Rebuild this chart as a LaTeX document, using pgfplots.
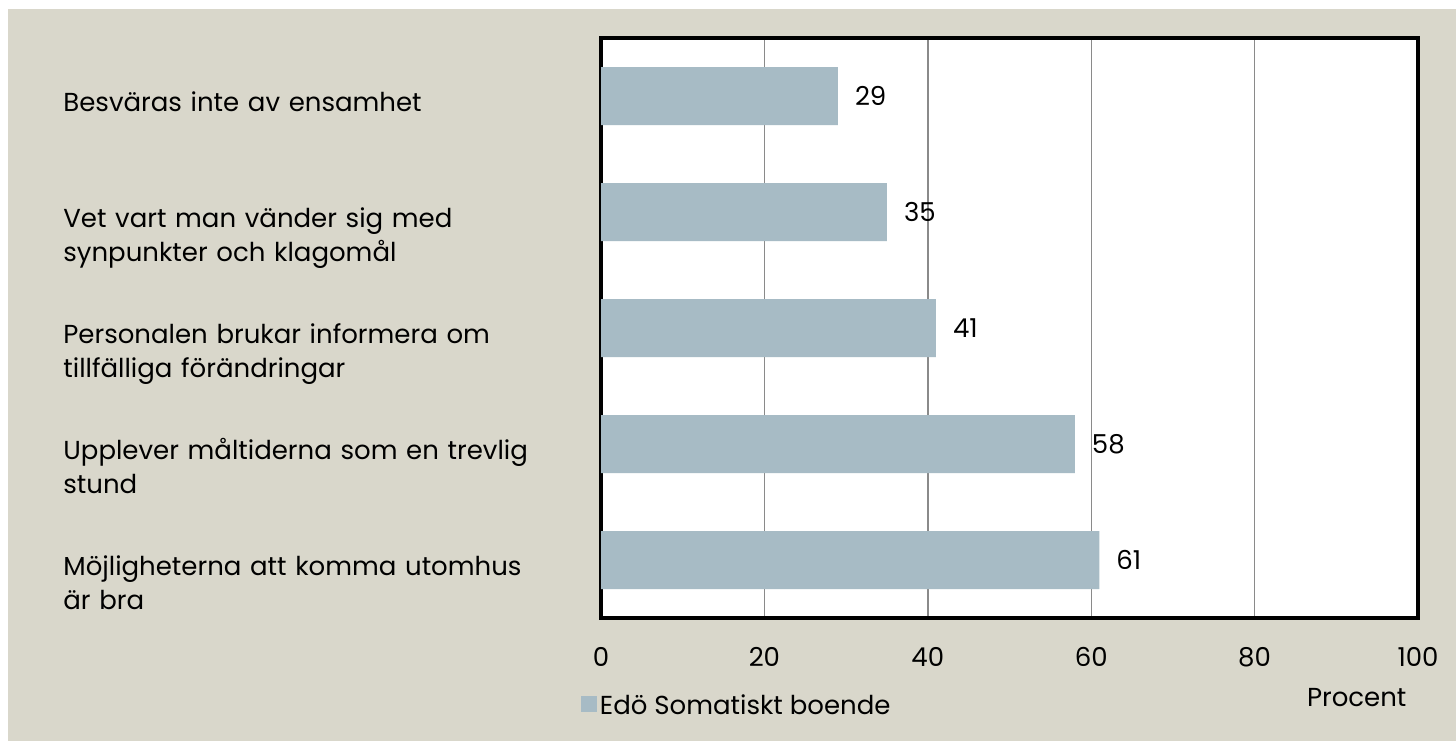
\documentclass[border=0pt]{standalone}
\usepackage{fontspec}
\setmainfont{Poppins}
\usepackage{pgfplots}
\pgfplotsset{compat=1.18}
\definecolor{bgbeige}{HTML}{D9D7CB}
\definecolor{barblue}{HTML}{A7BBC5}
\definecolor{gridgray}{HTML}{8A8A8A}

\begin{document}
\begin{tikzpicture}
\fill[white] (0,0) rectangle (728pt,370.5pt);
\fill[bgbeige] (4pt,0) rectangle (728pt,366pt);
\begin{axis}[
  at={(300.5pt,61.5pt)},anchor=south west,
  width=408.5pt,height=290pt,scale only axis,
  xbar,bar width=29pt,
  xmin=0,xmax=100,ymin=0.5,ymax=5.5,
  xtick={0,20,40,60,80,100},
  ytick={1,2,3,4,5},
  yticklabels={{Möjligheterna att komma utomhus\\är bra},
    {Upplever måltiderna som en trevlig\\stund},
    {Personalen brukar informera om\\tillfälliga förändringar},
    {Vet vart man vänder sig med\\synpunkter och klagomål},
    {Besväras inte av ensamhet}},
  major tick length=0pt,
  axis background/.style={fill=white},
  axis line style={line width=2.4pt,black},
  xmajorgrids,grid style={gridgray,line width=0.7pt},
  /pgf/number format/assume math mode=true,
  font=\fontsize{13}{17}\selectfont,
  yticklabel style={anchor=base west,text width=260pt,align=left,
    inner sep=0pt,xshift=-269pt,yshift=-7.5pt},
  xticklabel style={yshift=-11pt},
  xlabel={Procent},
  xlabel style={at={(rel axis cs:0.925,0)},anchor=center,yshift=-40pt},
  nodes near coords,
  nodes near coords style={anchor=west,xshift=5pt,black},
  legend style={draw=none,fill=none,at={(rel axis cs:-0.025,-0.15)},anchor=west,
    legend cell align=left,inner sep=0pt},
  legend image code/.code={\fill[barblue] (0cm,-0.13cm) rectangle (0.28cm,0.15cm);},
  legend style={/tikz/every node/.style={inner sep=1.5pt}},
]
\addplot[fill=barblue,draw=none] coordinates {(61,1) (58,2) (41,3) (35,4) (29,5)};
\legend{Edö Somatiskt boende}
\end{axis}
\end{tikzpicture}
\end{document}
